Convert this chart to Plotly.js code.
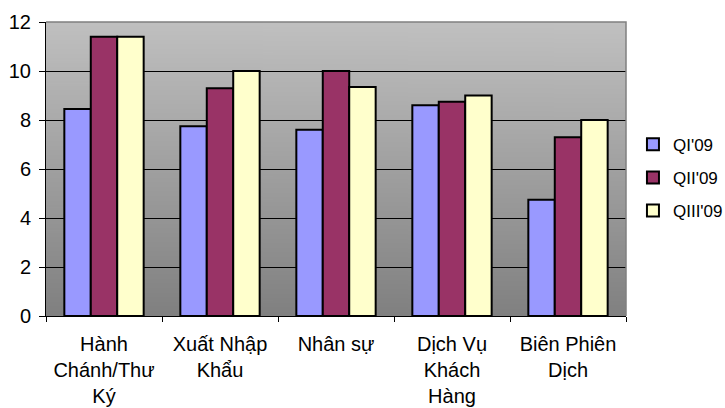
<!DOCTYPE html>
<html>
<head>
<meta charset="utf-8">
<script src="https://cdn.plot.ly/plotly-3.0.1.min.js"></script>
<style>html,body{margin:0;padding:0;background:#fff;}#chart{width:725px;height:408px;}</style>
</head>
<body>
<div id="chart"></div>
<script>
const categories = ["Hành Chánh/Thư Ký", "Xuất Nhập Khẩu", "Nhân sự", "Dịch Vụ Khách Hàng", "Biên Phiên Dịch"];
const tickLabels = ["Hành<br>Chánh/Thư<br>Ký", "Xuất Nhập<br>Khẩu", "Nhân sự", "Dịch Vụ<br>Khách<br>Hàng", "Biên Phiên<br>Dịch"];
const seriesNames = ["QI'09", "QII'09", "QIII'09"];
const q1 = [8.45, 7.75, 7.6, 8.6, 4.75];
const q2 = [11.4, 9.3, 10, 8.75, 7.3];
const q3 = [11.4, 10, 9.35, 9.0, 8.0];
const colors = ["#9999FF", "#993366", "#FFFFCC"];

// vertical gradient background image
const cv = document.createElement('canvas');
cv.width = 4; cv.height = 256;
const ctx = cv.getContext('2d');
const g = ctx.createLinearGradient(0, 0, 0, 256);
g.addColorStop(0, '#c0c0c0');
g.addColorStop(1, '#808080');
ctx.fillStyle = g; ctx.fillRect(0, 0, 4, 256);
const bgURL = cv.toDataURL();

const vals = [q1, q2, q3];
const traces = vals.map((v, i) => ({
  type: 'bar',
  name: seriesNames[i],
  x: categories,
  y: v,
  marker: {color: colors[i], line: {color: '#000', width: 2}},
  legendgroup: 'g' + i,
  hoverinfo: 'skip'
}));

const font = {family: '"Liberation Sans", Arial, sans-serif', size: 20, color: '#000'};
const legendFont = {family: '"Liberation Sans", Arial, sans-serif', size: 17, color: '#000'};

const layout = {
  width: 725, height: 408,
  margin: {l: 46, r: 99, t: 22, b: 92, autoexpand: false},
  paper_bgcolor: '#fff',
  plot_bgcolor: 'rgba(0,0,0,0)',
  font: font,
  barmode: 'group',
  bargap: 0.316,
  bargroupgap: 0,
  showlegend: true,
  legend: {x: 1.012, xanchor: 'left', y: 0.47, yanchor: 'middle', font: legendFont,
           tracegroupgap: 8, traceorder: 'grouped', bgcolor: 'rgba(0,0,0,0)'},
  xaxis: {
    type: 'category',
    tickvals: categories, ticktext: tickLabels,
    tickson: 'boundaries', ticks: 'outside', ticklen: 5, tickcolor: '#000',
    showline: true, linecolor: '#000', linewidth: 1,
    showgrid: false, tickangle: 0, tickfont: font, automargin: false,
    ticklabelstandoff: 10
  },
  yaxis: {
    range: [0, 12], tickvals: [0, 2, 4, 6, 8, 10, 12],
    ticks: 'outside', ticklen: 6, tickcolor: '#000',
    showline: true, linecolor: '#000', linewidth: 1,
    showgrid: true, gridcolor: '#000', gridwidth: 1,
    zeroline: false, tickfont: font, ticklabelstandoff: 4, automargin: false
  },
  images: [{
    source: bgURL, xref: 'paper', yref: 'paper', x: 0, y: 1,
    sizex: 1, sizey: 1, sizing: 'stretch', xanchor: 'left', yanchor: 'top', layer: 'below'
  }],
  shapes: [{
    type: 'path', xref: 'paper', yref: 'paper', path: 'M 0 1 L 1 1 L 1 0',
    line: {color: '#808080', width: 1.5}, layer: 'above'
  }]
};

Plotly.newPlot('chart', traces, layout, {displayModeBar: false, staticPlot: true});
</script>
</body>
</html>
